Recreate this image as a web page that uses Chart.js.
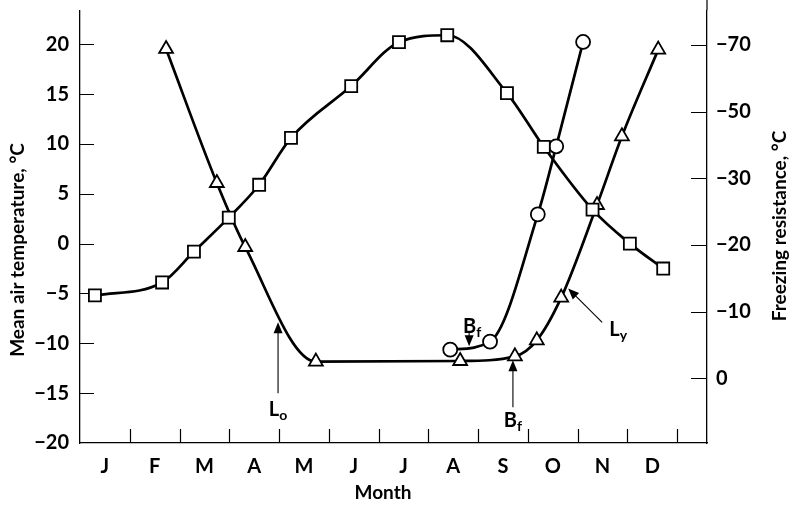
<!DOCTYPE html>
<html>
<head>
<meta charset="utf-8">
<script src="https://cdn.jsdelivr.net/npm/chart.js@4.4.1/dist/chart.umd.min.js"></script>
<style>
  html, body { margin: 0; padding: 0; background: #fff; }
</style>
</head>
<body>
<canvas id="chart" width="793" height="505"></canvas>
<script>
const months = ['J', 'F', 'M', 'A', 'M', 'J', 'J', 'A', 'S', 'O', 'N', 'D'];

// mean air temperature, °C (squares), x in months from 1 Jan
const tempMonth = [0.30, 1.65, 2.29, 2.99, 3.60, 4.24, 5.45, 6.41, 7.38, 8.58, 9.32, 10.30, 11.05, 11.72];
const tempValue = [-5.2, -3.9, -0.8, 2.6, 5.9, 10.6, 15.8, 20.2, 20.9, 15.1, 9.7, 3.4, 0.0, -2.5];

// freezing resistance of leaves, °C (triangles)
const leafMonth = [1.73, 2.75, 3.32, 4.74, 7.64, 8.74, 9.18, 9.67, 10.39, 10.89, 11.62];
const leafValue = [-68.8, -29.3, -19.7, -2.5, -2.6, -3.3, -5.7, -12.1, -26.0, -42.6, -68.6];

// freezing resistance of buds, °C (circles)
const budMonth = [7.44, 8.24, 9.20, 9.57, 10.11];
const budValue = [-4.3, -5.5, -24.6, -39.6, -70.9];

const leftTicks = [-20, -15, -10, -5, 0, 5, 10, 15, 20];
// right axis ticks sit at equal spacing
const rightTicks = [0, -10, -20, -30, -50, -70];

const FONT = 'Lato, "DejaVu Sans", sans-serif';

function minus(v) {
    return v < 0 ? '\u2212' + Math.abs(v) : String(v);
}

// resistance value -> slot on the evenly spaced right axis
function toSlot(r) {
    const n = rightTicks.length;
    let i = 0;
    while (i < n - 2 && r < rightTicks[i + 1]) i++;
    return i + (r - rightTicks[i]) / (rightTicks[i + 1] - rightTicks[i]);
}

function points(xs, ys, map) {
    return xs.map((x, i) => ({ x: x, y: map ? map(ys[i]) : ys[i] }));
}

const lineStyle = {
    borderColor: '#000',
    borderWidth: 2.7,
    pointBorderColor: '#000',
    pointBackgroundColor: '#fff',
    pointBorderWidth: 1.8,
    fill: false,
    cubicInterpolationMode: 'monotone'
};

const inwardTicks = {
    id: 'inwardTicks',
    beforeDatasetsDraw(chart) {
        const { ctx, chartArea: a, scales } = chart;
        ctx.save();
        ctx.strokeStyle = '#000';
        ctx.lineWidth = 1.2;
        ctx.beginPath();
        leftTicks.slice(1).forEach(v => {
            const y = Math.round(scales.y.getPixelForValue(v)) + 0.5;
            ctx.moveTo(a.left, y);
            ctx.lineTo(a.left + 14, y);
        });
        rightTicks.forEach((v, i) => {
            const y = Math.round(scales.y1.getPixelForValue(i)) + 0.5;
            ctx.moveTo(a.right - 16, y);
            ctx.lineTo(a.right, y);
        });
        for (let m = 1; m <= 12; m++) {
            const x = Math.round(scales.x.getPixelForValue(m)) + 0.5;
            ctx.moveTo(x, a.bottom);
            ctx.lineTo(x, a.bottom - 14);
        }
        // right axis line runs up to the top edge
        ctx.moveTo(a.right, 0);
        ctx.lineTo(a.right, a.top);
        ctx.stroke();
        ctx.restore();
    }
};

function subLabel(ctx, text, sub, cx, cy) {
    ctx.font = 'bold 20px ' + FONT;
    const w1 = ctx.measureText(text).width;
    ctx.font = 'bold 14px ' + FONT;
    const w2 = ctx.measureText(sub).width;
    const x0 = cx - (w1 + w2) / 2;
    ctx.textAlign = 'left';
    ctx.textBaseline = 'middle';
    ctx.font = 'bold 20px ' + FONT;
    ctx.fillText(text, x0, cy);
    ctx.font = 'bold 14px ' + FONT;
    ctx.fillText(sub, x0 + w1, cy + 6);
}

// arrows pointing at the curves: tip in (month, °C air temp), tail and label offsets in px
const arrowNotes = [
    { text: 'L', sub: 'o', tip: [3.98, -7.9], tail: [0, 71], label: [0, 87] },
    { text: 'B', sub: 'f', tip: [7.82, -10.3], tail: [0, -15], label: [3, -20] },
    { text: 'B', sub: 'f', tip: [8.70, -11.7], tail: [0, 47], label: [0, 60] },
    { text: 'L', sub: 'y', tip: [9.81, -4.5], tail: [34, 34], label: [50, 41] }
];

const annotations = {
    id: 'annotations',
    afterDraw(chart) {
        const { ctx, scales } = chart;
        ctx.save();
        ctx.fillStyle = '#000';
        ctx.strokeStyle = '#000';
        arrowNotes.forEach(n => {
            const tx = scales.x.getPixelForValue(n.tip[0]);
            const ty = scales.y.getPixelForValue(n.tip[1]);
            const ex = tx + n.tail[0], ey = ty + n.tail[1];
            const len = Math.hypot(n.tail[0], n.tail[1]);
            const ux = n.tail[0] / len, uy = n.tail[1] / len;
            ctx.lineWidth = 1.1;
            ctx.beginPath();
            ctx.moveTo(tx + ux * 8, ty + uy * 8);
            ctx.lineTo(ex, ey);
            ctx.stroke();
            const hl = 11, hw = 4.5;
            ctx.beginPath();
            ctx.moveTo(tx, ty);
            ctx.lineTo(tx + ux * hl - uy * hw, ty + uy * hl + ux * hw);
            ctx.lineTo(tx + ux * hl + uy * hw, ty + uy * hl - ux * hw);
            ctx.closePath();
            ctx.fill();
            subLabel(ctx, n.text, n.sub, tx + n.label[0], ty + n.label[1]);
        });

        // axis titles
        ctx.font = 'bold 19px ' + FONT;
        ctx.textAlign = 'center';
        ctx.textBaseline = 'middle';
        ctx.fillText('Month', 383, 493);
        ctx.save();
        ctx.translate(18, 250);
        ctx.rotate(-Math.PI / 2);
        ctx.fillText('Mean air temperature, \u00B0C', 0, 0);
        ctx.restore();
        ctx.save();
        ctx.translate(780, 226);
        ctx.rotate(-Math.PI / 2);
        ctx.fillText('Freezing resistance, \u00B0C', 0, 0);
        ctx.restore();
        ctx.restore();
    }
};

const tickFont = { family: FONT, size: 20, weight: 'bold' };

// fixed box sizes so the plot area spans 80..707 x 8..443
function fixBox(size) {
    return s => {
        if (s.isHorizontal()) s.height = size; else s.width = size;
        s.paddingTop = 0;
        s.paddingBottom = 0;
        s.paddingLeft = 0;
        s.paddingRight = 0;
    };
}

new Chart(document.getElementById('chart'), {
    type: 'line',
    data: {
        datasets: [
            Object.assign({
                label: 'Mean air temperature',
                data: points(tempMonth, tempValue),
                yAxisID: 'y',
                pointStyle: 'rect',
                pointRadius: 8.5
            }, lineStyle),
            Object.assign({
                label: 'L',
                data: points(leafMonth, leafValue, toSlot),
                yAxisID: 'y1',
                pointStyle: 'triangle',
                pointRadius: 8
            }, lineStyle),
            Object.assign({
                label: 'Bf',
                data: points(budMonth, budValue, toSlot),
                yAxisID: 'y1',
                pointStyle: 'circle',
                pointRadius: 7
            }, lineStyle)
        ]
    },
    options: {
        responsive: false,
        animation: false,
        layout: { padding: { top: 8, left: 0, right: 0, bottom: 0 } },
        plugins: { legend: { display: false }, tooltip: { enabled: false } },
        scales: {
            x: {
                type: 'linear',
                position: 'bottom',
                min: 0,
                max: 12.6,
                grid: { display: false, drawTicks: false },
                border: { color: '#000', width: 1.3 },
                afterBuildTicks: s => { s.ticks = months.map((m, i) => ({ value: i + 0.5 })); },
                afterFit: fixBox(62),
                ticks: {
                    callback: (v, i) => months[i],
                    font: tickFont,
                    color: '#000',
                    padding: 12,
                    autoSkip: false,
                    maxRotation: 0
                }
            },
            y: {
                position: 'left',
                min: -20,
                max: 23.4,
                grid: { display: false, drawTicks: false },
                border: { color: '#000', width: 1.3 },
                afterBuildTicks: s => { s.ticks = leftTicks.map(v => ({ value: v })); },
                afterFit: fixBox(80),
                ticks: {
                    callback: v => minus(v),
                    font: tickFont,
                    color: '#000',
                    padding: 11
                }
            },
            y1: {
                position: 'right',
                min: -0.97,
                max: 5.52,
                grid: { display: false, drawTicks: false },
                border: { color: '#000', width: 1.3 },
                afterBuildTicks: s => { s.ticks = rightTicks.map((v, i) => ({ value: i })); },
                afterFit: fixBox(86),
                ticks: {
                    callback: (v, i) => minus(rightTicks[i]),
                    font: tickFont,
                    color: '#000',
                    padding: 9
                }
            }
        }
    },
    plugins: [inwardTicks, annotations]
});
</script>
</body>
</html>
